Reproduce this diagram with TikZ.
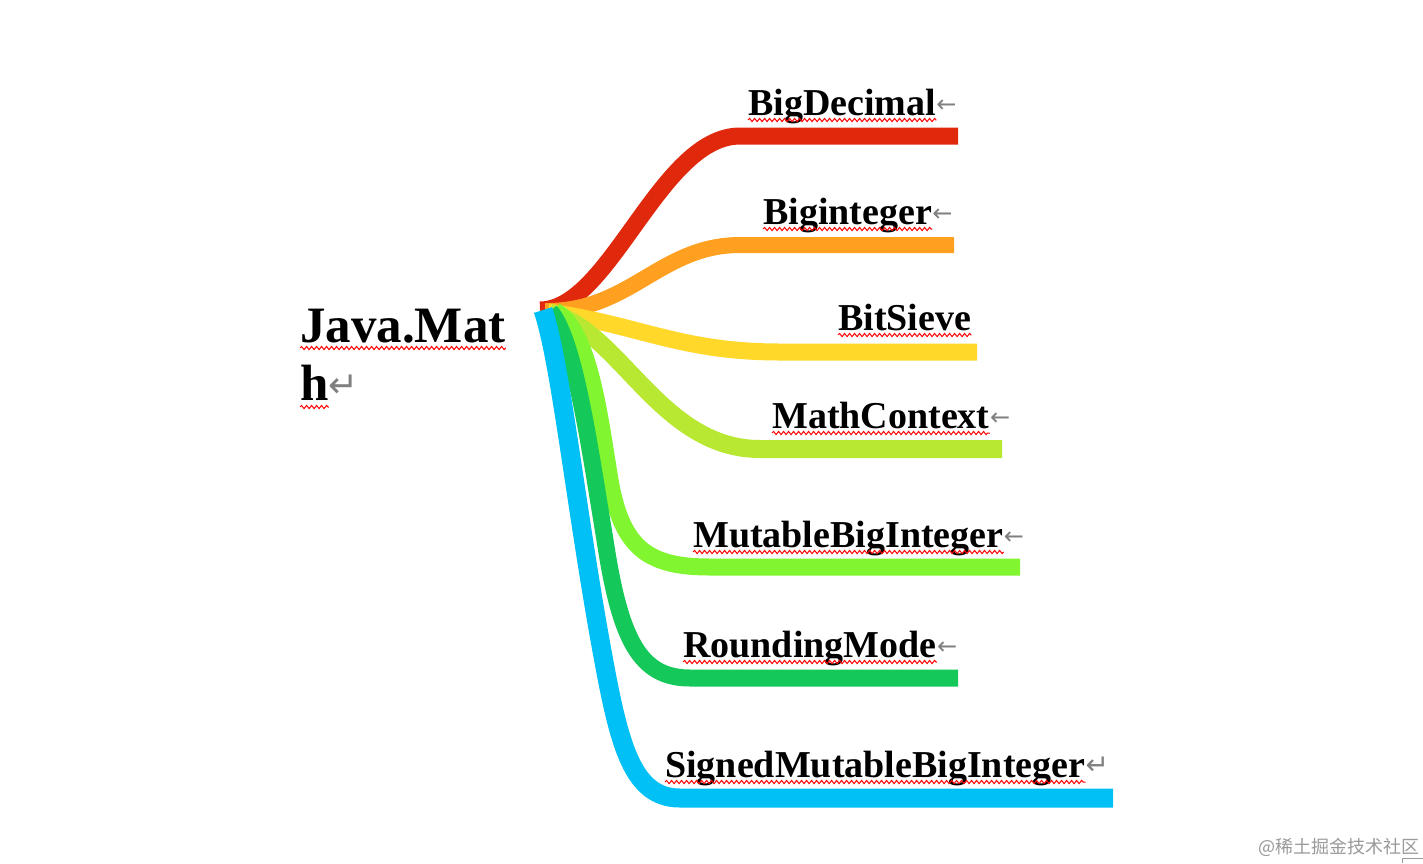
\documentclass[tikz,border=0pt]{standalone}
\usepackage{fontspec}
\setmainfont{Liberation Serif}
\newfontfamily\symfont{DejaVu Sans}
\newfontfamily\cjkfont{Noto Sans CJK SC}
\usetikzlibrary{decorations.pathmorphing}
\definecolor{cRed}{HTML}{E0280C}
\definecolor{cOrange}{HTML}{FFA020}
\definecolor{cYellow}{HTML}{FFD82A}
\definecolor{cLime}{HTML}{B8E832}
\definecolor{cLight}{HTML}{80F530}
\definecolor{cDark}{HTML}{14C85A}
\definecolor{cCyan}{HTML}{00C0F5}
\definecolor{cMark}{HTML}{808080}
\begin{document}
\begin{tikzpicture}[x=1pt,y=-1pt,
  branch/.style={line width=17pt, line cap=butt},
  lbl/.style={anchor=base west, inner sep=0pt, font=\fontsize{38}{44}\selectfont\bfseries},
  ttl/.style={anchor=base west, inner sep=0pt, font=\fontsize{51}{58}\selectfont\bfseries},
  retarrow/.style={anchor=base west, inner sep=0pt, text=cMark, font=\symfont\fontsize{24}{26}\selectfont, yshift=3pt, xshift=0pt},
  wavy/.style={draw=red, line width=1pt, decorate, decoration={snake, amplitude=1.6pt, segment length=5pt}}
]
\useasboundingbox (0,0) rectangle (1423,863);

% origin and branch ends
\coordinate (o1) at (540,310);
\coordinate (o2) at (545,311);
\coordinate (o3) at (548,312);
\coordinate (o4) at (550,313);
\coordinate (o5) at (555,311);
\coordinate (o6) at (550,311);
\coordinate (o7) at (543,310);
\coordinate (eRed) at (958,136);
\coordinate (eOrange) at (954,245);
\coordinate (eYellow) at (977,352);
\coordinate (eLime) at (1002,449);
\coordinate (eLight) at (1020,567);
\coordinate (eDark) at (958,678);
\coordinate (eCyan) at (1113,798);

\draw[branch, draw=cRed] (o1) .. controls (610,310) and (660,136) .. (740,136) -- (eRed);
\draw[branch, draw=cOrange, line width=16pt] (o2) .. controls (630,312) and (660,245) .. (740,245) -- (eOrange);
\draw[branch, draw=cYellow] (o3) .. controls (640,325) and (680,352) .. (780,352) -- (eYellow);
\draw[branch, draw=cLime, line width=18pt] (o4) .. controls (620,330) and (660,449) .. (760,449) -- (eLime);
\draw[branch, draw=cLight] (o5) .. controls (590,330) and (600,420) .. (610,480) .. controls (622,550) and (650,567) .. (710,567) -- (eLight);
\draw[branch, draw=cDark] (o6) .. controls (575,340) and (590,450) .. (605,540) .. controls (620,640) and (640,678) .. (690,678) -- (eDark);
\draw[branch, draw=cCyan, line width=19pt] (o7) .. controls (560,360) and (575,500) .. (600,640) .. controls (618,740) and (630,798) .. (680,798) -- (eCyan);

% title
\node[ttl] (t1) at (300,342) {Java.Mat};
\node[ttl] (t2) at (300,400) {h};
\node[retarrow, font=\symfont\fontsize{36}{38}\selectfont, yshift=0pt] (t2r) at (t2.base east) {↵};
\draw[wavy] ([yshift=-6pt]t1.base west) -- ([yshift=-6pt]t1.base east);
\draw[wavy] ([yshift=-7pt]t2.base west) -- ([yshift=-7pt]t2.base east);

% labels
\node[lbl] (l1) at (748,115) {BigDecimal};
\node[lbl] (l2) at (763,224) {Biginteger};
\node[lbl] (l3) at (838,330) {BitSieve};
\node[lbl] (l4) at (772,428) {MathContext};
\node[lbl] (l5) at (693,547) {MutableBigInteger};
\node[lbl] (l6) at (683,657) {RoundingMode};
\node[lbl] (l7) at (665,777) {SignedMutableBigInteger};

\node[retarrow] (r1) at (l1.base east) {←};
\node[retarrow] (r2) at (l2.base east) {←};
\node[retarrow] (r4) at (l4.base east) {←};
\node[retarrow] (r5) at (l5.base east) {←};
\node[retarrow] (r6) at (l6.base east) {←};
\node[retarrow, font=\symfont\fontsize{28}{30}\selectfont, yshift=0pt] (r7) at (l7.base east) {↵};

\foreach \n in {l1,l2,l3,l4,l5,l6,l7}
  \draw[wavy] ([yshift=-5pt]\n.base west) -- ([yshift=-5pt]\n.base east);

% watermark
\node[anchor=base west, inner sep=0pt, text=black!40, font=\cjkfont\fontsize{18}{20}\selectfont] (wm) at (1258,853) {@稀土掘金技术社区};
\coordinate (c1) at (1402,863);
\coordinate (c2) at (1402,858);
\coordinate (c3) at (1423,858);
\draw[black!40, line width=0.8pt] (c1) -- (c2) -- (c3);
\end{tikzpicture}
\end{document}
